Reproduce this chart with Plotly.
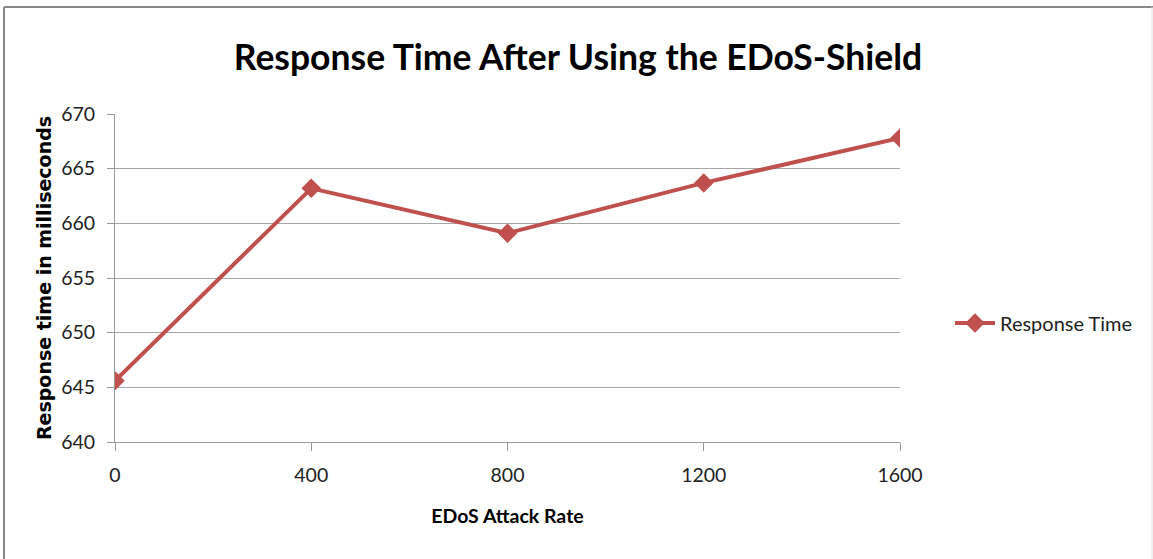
import plotly.graph_objects as go

# Chart data
attack_rates = ["0", "400", "800", "1200", "1600"]
response_ms = [645.6, 663.2, 659.1, 663.7, 667.8]
series_name = "Response Time"

W, H = 1153, 559
L, R, T, B = 115, 253, 114, 117
pw, ph = W - L - R, H - T - B

def px_x(x):
    return (x - L) / pw

def px_y(y):
    return 1 - (y - T) / ph

FONT = "Lato, sans-serif"
RED = "#C0504D"

fig = go.Figure()
fig.add_trace(go.Scatter(
    x=attack_rates, y=response_ms, name=series_name, mode="lines+markers",
    line=dict(color=RED, width=4),
    marker=dict(symbol="diamond", size=15, color=RED),
))

fig.update_layout(
    width=W, height=H,
    margin=dict(l=L, r=R, t=T, b=B),
    paper_bgcolor="white", plot_bgcolor="white",
    font=dict(family=FONT, color="#222222", size=19),
    title=dict(
        text="<b>Response Time After Using the EDoS-Shield</b>",
        x=px_x(578), xref="paper", xanchor="center",
        y=1 - 58 / H, yref="container", yanchor="middle",
        font=dict(family=FONT, size=35.5, color="black"),
    ),
    showlegend=True,
    legend=dict(
        x=px_x(950), y=px_y(323), xanchor="left", yanchor="middle",
        font=dict(family=FONT, size=20, color="#222222"),
        bgcolor="rgba(0,0,0,0)", itemwidth=40,
    ),
    xaxis=dict(
        type="category", range=[0, 4],
        showline=True, linecolor="#999999", linewidth=1,
        ticks="outside", ticklen=8, tickcolor="#999999",
        showgrid=False, zeroline=False,
        tickfont=dict(family=FONT, size=19.5, color="#222222"),
        ticklabelstandoff=8,
        title=dict(text="<b>EDoS Attack Rate</b>", standoff=23,
                   font=dict(family=FONT, size=19.5, color="black")),
    ),
    yaxis=dict(
        range=[640, 670], dtick=5,
        showline=True, linecolor="#999999", linewidth=1,
        ticks="outside", ticklen=7, tickcolor="#999999",
        showgrid=True, gridcolor="#A6A6A6", gridwidth=1, zeroline=False,
        tickfont=dict(family=FONT, size=19.5, color="#222222"),
        ticklabelstandoff=8,
        title=dict(text="<b>Response time in milliseconds</b>", standoff=4,
                   font=dict(family="DejaVu Sans, sans-serif", size=19, color="black")),
    ),
    shapes=[
        dict(type="line", xref="paper", yref="paper",
             x0=px_x(4), x1=px_x(W), y0=px_y(7), y1=px_y(7),
             line=dict(color="#888888", width=2)),
        dict(type="line", xref="paper", yref="paper",
             x0=px_x(4), x1=px_x(4), y0=px_y(7), y1=px_y(H),
             line=dict(color="#888888", width=2)),
        dict(type="line", xref="paper", yref="paper",
             x0=px_x(W - 1), x1=px_x(W - 1), y0=px_y(7), y1=px_y(H),
             line=dict(color="#E0E0E0", width=1)),
    ],
)

fig.write_html("out.html")
